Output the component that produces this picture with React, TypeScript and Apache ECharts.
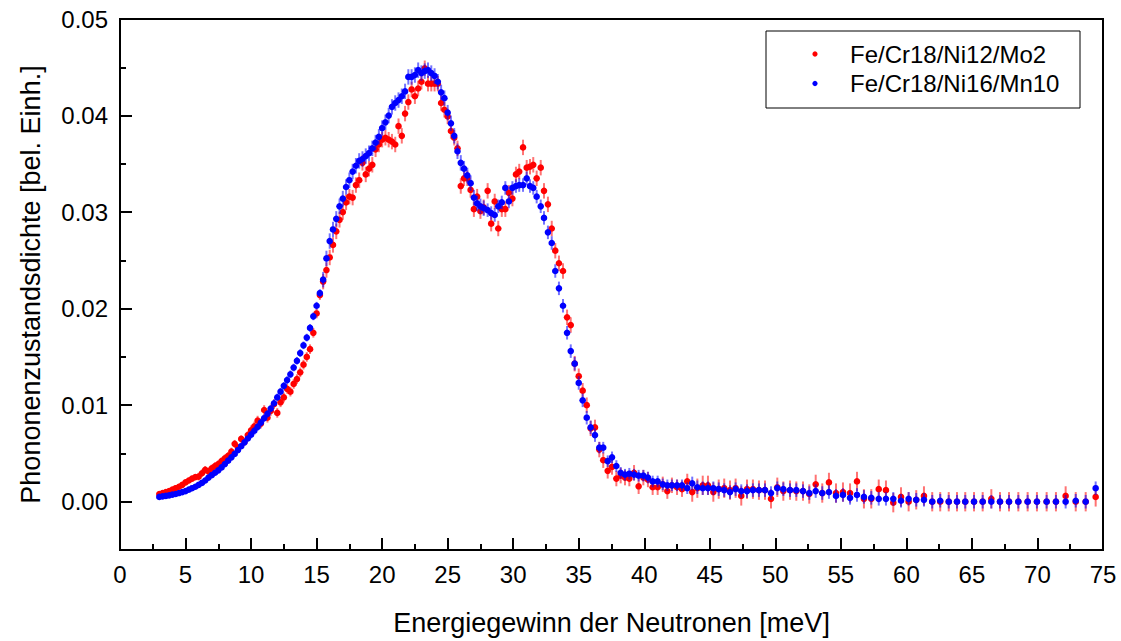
import { useEffect, useRef } from "react";
import * as echarts from "echarts";

// Energy transfer [meV] (shared binning of both measurements)
const energy = [
  3, 3.25, 3.5, 3.75, 4, 4.25, 4.5, 4.75, 5, 5.25,
  5.5, 5.75, 6, 6.25, 6.5, 6.75, 7, 7.25, 7.5, 7.75,
  8, 8.25, 8.5, 8.75, 9, 9.25, 9.5, 9.75, 10, 10.25,
  10.5, 10.75, 11, 11.25, 11.5, 11.75, 12, 12.25, 12.5, 12.75,
  13, 13.25, 13.5, 13.75, 14, 14.25, 14.5, 14.75, 15, 15.25,
  15.5, 15.75, 16, 16.25, 16.5, 16.75, 17, 17.25, 17.5, 17.75,
  18, 18.25, 18.5, 18.75, 19, 19.25, 19.5, 19.75, 20, 20.25,
  20.5, 20.75, 21, 21.25, 21.5, 21.75, 22, 22.25, 22.5, 22.75,
  23, 23.25, 23.5, 23.75, 24, 24.25, 24.5, 24.75, 25, 25.25,
  25.5, 25.75, 26, 26.25, 26.5, 26.75, 27, 27.25, 27.5, 27.75,
  28.05, 28.32, 28.59, 28.86, 29.13, 29.4, 29.67, 29.94, 30.21, 30.46,
  30.75, 31.03, 31.28, 31.53, 31.79, 32.1, 32.35, 32.65, 32.94, 33.21,
  33.49, 33.8, 34.11, 34.39, 34.69, 35.0, 35.3, 35.61, 35.91, 36.24,
  36.57, 36.87, 37.21, 37.54, 37.87, 38.2, 38.53, 38.86, 39.22, 39.57,
  39.93, 40.28, 40.64, 41.02, 41.41, 41.76, 42.11, 42.5, 42.88, 43.28,
  43.66, 44.05, 44.46, 44.86, 45.27, 45.68, 46.1, 46.54, 46.97, 47.4,
  47.84, 48.29, 48.75, 49.21, 49.67, 50.15, 50.61, 51.12, 51.6, 52.11,
  52.59, 53.08, 53.58, 54.09, 54.63, 55.16, 55.7, 56.23, 56.76, 57.32,
  57.89, 58.44, 59.0, 59.59, 60.17, 60.75, 61.34, 61.97, 62.58, 63.23,
  63.86, 64.49, 65.16, 65.82, 66.48, 67.14, 67.83, 68.54, 69.25, 69.96,
  70.7, 71.41, 72.15, 72.92, 73.68, 74.44,
];

// Fe/Cr18/Ni12/Mo2 (red)
const feMo = [
  0.0008, 0.0009, 0.0010, 0.0011, 0.00125, 0.0014, 0.00155, 0.00175, 0.0020, 0.0022,
  0.0024, 0.00255, 0.0026, 0.00295, 0.0033, 0.00315, 0.00345, 0.0037, 0.0039, 0.0042,
  0.0045, 0.00475, 0.0052, 0.0060, 0.0056, 0.0065, 0.0062, 0.0069, 0.0074, 0.0078,
  0.0084, 0.0081, 0.0095, 0.0087, 0.0094, 0.0101, 0.0092, 0.0103, 0.0108, 0.0117,
  0.0114, 0.0122, 0.0127, 0.0134, 0.0142, 0.0150, 0.0158, 0.0175, 0.0195, 0.0214,
  0.0228, 0.0240, 0.0253, 0.0266, 0.0280, 0.0292, 0.0300, 0.0310, 0.0316, 0.0315,
  0.0328, 0.0333, 0.0351, 0.0339, 0.0345, 0.0349, 0.0365, 0.0370, 0.0375, 0.0377,
  0.0375, 0.0373, 0.0370, 0.0389, 0.0379, 0.0402, 0.0414, 0.0427, 0.0420, 0.0428,
  0.0435, 0.0449, 0.0433, 0.0433, 0.0433, 0.0433, 0.0413, 0.0406, 0.0399, 0.0384,
  0.0377, 0.0366, 0.0327, 0.0335, 0.0335, 0.0323, 0.0303, 0.0316, 0.0301, 0.0305,
  0.0322, 0.0288, 0.0311, 0.0283, 0.0303, 0.0303, 0.0320, 0.0314, 0.0339, 0.0342,
  0.0367, 0.0346, 0.0347, 0.0349, 0.0335, 0.0346, 0.0322, 0.0308, 0.0283, 0.0260,
  0.0247, 0.0239, 0.0191, 0.0183, 0.0143, 0.0130, 0.0115, 0.0100, 0.0076, 0.0077,
  0.0054, 0.0043, 0.0032, 0.0036, 0.0024, 0.0027, 0.0025, 0.0024, 0.0030, 0.0016,
  0.0025, 0.0023, 0.0015, 0.0015, 0.0018, 0.0011, 0.0017, 0.0015, 0.0013, 0.0021,
  0.0010, 0.0014, 0.0017, 0.0017, 0.0010, 0.0013, 0.0014, 0.0012, 0.0014, 0.0006,
  0.0013, 0.0013, 0.0012, 0.0012, 0.0003, 0.0015, 0.0011, 0.0012, 0.0011, 0.0011,
  0.0008, 0.0018, 0.0009, 0.0020, 0.0009, 0.0010, 0.0009, 0.0021, 0.0003, 0.0003,
  0.0013, 0.0012, -0.0001, 0.0005, 0.0000, 0.0002, 0.0006, 0.0000, 0.0000, 0.0000,
  0.0000, 0.0000, 0.0000, 0.0000, 0.0003, 0.0000, 0.0000, 0.0000, 0.0000, 0.0000,
  0.0000, 0.0000, 0.0006, 0.0000, 0.0000, 0.0005,
];

// Fe/Cr18/Ni16/Mn10 (blue)
const feMn = [
  0.0005, 0.00055, 0.0006, 0.00066, 0.00074, 0.0008, 0.0009, 0.0010, 0.0011, 0.00125,
  0.0014, 0.00155, 0.00175, 0.00195, 0.0022, 0.0025, 0.00275, 0.0030, 0.00325, 0.00355,
  0.0039, 0.00425, 0.0046, 0.00495, 0.00535, 0.00575, 0.00615, 0.00655, 0.00695, 0.00735,
  0.00775, 0.0082, 0.00865, 0.0091, 0.00965, 0.0102, 0.0108, 0.0114, 0.0120, 0.0126,
  0.0132, 0.0139, 0.0146, 0.0154, 0.0162, 0.0170, 0.0180, 0.0192, 0.0203, 0.0216,
  0.0230, 0.0252, 0.0270, 0.0282, 0.0293, 0.0306, 0.0314, 0.0326, 0.0333, 0.0342,
  0.0348, 0.0353, 0.0355, 0.0358, 0.0361, 0.0366, 0.0372, 0.0378, 0.0387, 0.0393,
  0.0400, 0.0409, 0.0413, 0.0416, 0.0420, 0.0425, 0.0440, 0.0440, 0.0442, 0.0447,
  0.0444, 0.0446, 0.0447, 0.0444, 0.0441, 0.0435, 0.0424, 0.0418, 0.0403, 0.0392,
  0.0379, 0.0363, 0.0351, 0.0345, 0.0338, 0.0330, 0.0315, 0.0309, 0.0306, 0.0304,
  0.0302, 0.0299, 0.0297, 0.0306, 0.0310, 0.0325, 0.0311, 0.0325, 0.0327, 0.0328,
  0.0328, 0.0335, 0.0327, 0.0325, 0.0316, 0.0306, 0.0294, 0.0279, 0.0268, 0.0239,
  0.0221, 0.0203, 0.0175, 0.0156, 0.0143, 0.0123, 0.0105, 0.0087, 0.0077, 0.0069,
  0.0056, 0.0056, 0.0042, 0.0046, 0.0037, 0.0030, 0.0028, 0.0029, 0.0028, 0.0027,
  0.0027, 0.0025, 0.0021, 0.0021, 0.0018, 0.0017, 0.0017, 0.0017, 0.0017, 0.0014,
  0.0019, 0.0015, 0.0014, 0.0014, 0.0014, 0.0013, 0.0012, 0.0010, 0.0013, 0.0011,
  0.0011, 0.0012, 0.0012, 0.0012, 0.0009, 0.0014, 0.0013, 0.0012, 0.0012, 0.0011,
  0.0009, 0.0011, 0.0009, 0.0010, 0.0006, 0.0007, 0.0004, 0.0007, 0.0005, 0.0004,
  0.0003, 0.0003, 0.0003, 0.0001, 0.0003, 0.0002, 0.0002, 0.0000, 0.0001, 0.0000,
  0.0000, 0.0000, 0.0000, 0.0000, 0.0000, 0.0000, 0.0000, 0.0000, 0.0000, 0.0000,
  0.0000, 0.0000, 0.0000, 0.0001, 0.0000, 0.0014,
];

// error bar half-lengths (red)
const errMo = [
  0.0003, 0.0003, 0.0003, 0.0003, 0.0003, 0.0003, 0.0003, 0.0003, 0.0003, 0.0003,
  0.0003, 0.0003, 0.0004, 0.0004, 0.0004, 0.0004, 0.0004, 0.0004, 0.0004, 0.0004,
  0.0004, 0.0004, 0.0004, 0.0004, 0.0004, 0.0004, 0.0004, 0.0004, 0.0005, 0.0005,
  0.0005, 0.0005, 0.0005, 0.0005, 0.0005, 0.0005, 0.0005, 0.0005, 0.0005, 0.0005,
  0.0005, 0.0005, 0.0005, 0.0005, 0.0005, 0.0005, 0.0005, 0.0005, 0.0005, 0.0005,
  0.0008, 0.0008, 0.0008, 0.0008, 0.0008, 0.0008, 0.0008, 0.0008, 0.0008, 0.0008,
  0.0008, 0.0008, 0.0008, 0.0008, 0.0008, 0.0008, 0.0008, 0.0008, 0.0008, 0.0008,
  0.0008, 0.0008, 0.0008, 0.0008, 0.0008, 0.0008, 0.0008, 0.0008, 0.0008, 0.0008,
  0.0008, 0.0008, 0.0008, 0.0008, 0.0008, 0.0008, 0.0008, 0.0008, 0.0008, 0.0008,
  0.0008, 0.0008, 0.0008, 0.0008, 0.0008, 0.0008, 0.0008, 0.0008, 0.0008, 0.0008,
  0.0008, 0.0008, 0.0008, 0.0008, 0.0008, 0.0008, 0.0008, 0.0008, 0.0008, 0.0008,
  0.0008, 0.0008, 0.0008, 0.0008, 0.0008, 0.0008, 0.0008, 0.0008, 0.0008, 0.0008,
  0.0008, 0.0008, 0.0008, 0.0008, 0.0008, 0.0008, 0.0008, 0.0008, 0.0008, 0.0008,
  0.0008, 0.0008, 0.0008, 0.0008, 0.0008, 0.0008, 0.0008, 0.0008, 0.0008, 0.0008,
  0.0008, 0.0008, 0.0008, 0.0008, 0.0008, 0.0008, 0.0008, 0.0008, 0.0008, 0.0008,
  0.0010, 0.0010, 0.0010, 0.0010, 0.0010, 0.0010, 0.0010, 0.0010, 0.0010, 0.0010,
  0.0010, 0.0010, 0.0010, 0.0010, 0.0010, 0.0010, 0.0010, 0.0010, 0.0010, 0.0010,
  0.0010, 0.0010, 0.0010, 0.0010, 0.0010, 0.0010, 0.0010, 0.0010, 0.0010, 0.0010,
  0.0010, 0.0010, 0.0010, 0.0010, 0.0010, 0.0010, 0.0010, 0.0010, 0.0010, 0.0010,
  0.0010, 0.0010, 0.0010, 0.0010, 0.0010, 0.0010, 0.0010, 0.0010, 0.0010, 0.0010,
  0.0010, 0.0010, 0.0010, 0.0010, 0.0010, 0.0010,
];

// error bar half-lengths (blue)
const errMn = [
  0.0002, 0.0002, 0.0002, 0.0002, 0.0002, 0.0002, 0.0002, 0.0002, 0.0002, 0.0002,
  0.0002, 0.0002, 0.0003, 0.0003, 0.0003, 0.0003, 0.0003, 0.0003, 0.0003, 0.0003,
  0.0003, 0.0003, 0.0003, 0.0003, 0.0003, 0.0003, 0.0003, 0.0003, 0.0004, 0.0004,
  0.0004, 0.0004, 0.0004, 0.0004, 0.0004, 0.0004, 0.0004, 0.0004, 0.0004, 0.0004,
  0.0004, 0.0004, 0.0004, 0.0004, 0.0004, 0.0004, 0.0004, 0.0004, 0.0004, 0.0004,
  0.0008, 0.0008, 0.0008, 0.0008, 0.0008, 0.0008, 0.0008, 0.0008, 0.0008, 0.0008,
  0.0008, 0.0008, 0.0008, 0.0008, 0.0008, 0.0008, 0.0008, 0.0008, 0.0008, 0.0008,
  0.0008, 0.0008, 0.0008, 0.0008, 0.0008, 0.0008, 0.0008, 0.0008, 0.0008, 0.0008,
  0.0008, 0.0008, 0.0008, 0.0008, 0.0008, 0.0008, 0.0008, 0.0008, 0.0008, 0.0008,
  0.0008, 0.0008, 0.0008, 0.0008, 0.0008, 0.0008, 0.0008, 0.0008, 0.0008, 0.0008,
  0.0007, 0.0007, 0.0007, 0.0007, 0.0007, 0.0007, 0.0007, 0.0007, 0.0007, 0.0007,
  0.0007, 0.0007, 0.0007, 0.0007, 0.0007, 0.0007, 0.0007, 0.0007, 0.0007, 0.0007,
  0.0007, 0.0007, 0.0007, 0.0007, 0.0007, 0.0007, 0.0007, 0.0007, 0.0007, 0.0007,
  0.0006, 0.0006, 0.0006, 0.0006, 0.0006, 0.0006, 0.0006, 0.0006, 0.0006, 0.0006,
  0.0006, 0.0006, 0.0006, 0.0006, 0.0006, 0.0006, 0.0006, 0.0006, 0.0006, 0.0006,
  0.0007, 0.0007, 0.0007, 0.0007, 0.0007, 0.0007, 0.0007, 0.0007, 0.0007, 0.0007,
  0.0007, 0.0007, 0.0007, 0.0007, 0.0007, 0.0007, 0.0007, 0.0007, 0.0007, 0.0007,
  0.0007, 0.0007, 0.0007, 0.0007, 0.0007, 0.0007, 0.0007, 0.0007, 0.0007, 0.0007,
  0.0007, 0.0007, 0.0007, 0.0007, 0.0007, 0.0007, 0.0007, 0.0007, 0.0007, 0.0007,
  0.0007, 0.0007, 0.0007, 0.0007, 0.0007, 0.0007, 0.0007, 0.0007, 0.0007, 0.0007,
  0.0007, 0.0007, 0.0007, 0.0007, 0.0007, 0.0007,
];

const seriesNames = ["Fe/Cr18/Ni12/Mo2", "Fe/Cr18/Ni16/Mn10"];
const xTitle = "Energiegewinn der Neutronen [meV]";
const yTitle = "Phononenzustandsdichte [bel. Einh.]";

const FONT = "'Liberation Sans', Arial, Helvetica, sans-serif";

export default function App() {
  const ref = useRef<HTMLDivElement>(null);

  useEffect(() => {
    if (!ref.current) return;
    const chart = echarts.init(ref.current, null, { renderer: "svg" });

    const build = (vals: number[], errs: number[]) =>
      energy.map((e, i) => [e, vals[i], errs[i]]);

    const makeRender = (dot: string, bar: string) => (_params: any, api: any) => {
      const x = api.value(0);
      const y = api.value(1);
      const err = api.value(2);
      const c = api.coord([x, y]);
      const hi = api.coord([x, y + err]);
      const lo = api.coord([x, y - err]);
      return {
        type: "group",
        children: [
          {
            type: "line",
            shape: { x1: c[0], y1: hi[1], x2: c[0], y2: lo[1] },
            style: { stroke: bar, lineWidth: 2 },
          },
          {
            type: "circle",
            shape: { cx: c[0], cy: c[1], r: 3.3 },
            style: { fill: dot },
          },
        ],
      };
    };

    const axisCommon = {
      type: "value" as const,
      nameLocation: "middle" as const,
      nameTextStyle: { fontSize: 27, color: "#000", fontFamily: FONT },
      axisLine: { show: true, onZero: false, lineStyle: { color: "#000", width: 2 } },
      axisTick: { show: true, inside: true, length: 12, lineStyle: { color: "#000", width: 2 } },
      minorTick: { show: true, splitNumber: 2, length: 6, lineStyle: { color: "#000", width: 2 } },
      splitLine: { show: false },
      minorSplitLine: { show: false },
    };

    chart.setOption({
      animation: false,
      backgroundColor: "#fff",
      grid: {
        left: 120,
        right: 18,
        top: 19,
        bottom: 89,
        show: true,
        borderColor: "#000",
        borderWidth: 2,
        backgroundColor: "transparent",
      },
      xAxis: {
        ...axisCommon,
        min: 0,
        max: 75,
        interval: 5,
        name: xTitle,
        nameGap: 59,
        axisLabel: { fontSize: 24, color: "#000", margin: 12, fontFamily: FONT },
      },
      yAxis: {
        ...axisCommon,
        min: -0.005,
        max: 0.05,
        splitNumber: 5,
        name: yTitle,
        nameGap: 76,
        axisLabel: {
          fontSize: 24,
          color: "#000",
          margin: 12,
          fontFamily: FONT,
          formatter: (v: number) => (v < -1e-9 ? "" : v.toFixed(2)),
        },
      },
      legend: { show: false },
      series: [
        {
          type: "custom",
          name: seriesNames[0],
          renderItem: makeRender("#ff0000", "rgba(255,0,0,0.55)"),
          encode: { x: 0, y: 1 },
          data: build(feMo, errMo),
          z: 2,
        },
        {
          type: "custom",
          name: seriesNames[1],
          renderItem: makeRender("#0000ff", "rgba(0,0,255,0.55)"),
          encode: { x: 0, y: 1 },
          data: build(feMn, errMn),
          z: 3,
        },
      ],
      graphic: [
        {
          type: "rect",
          shape: { x: 766, y: 31, width: 314, height: 77 },
          style: { fill: "#fff", stroke: "#000", lineWidth: 1 },
          z: 10,
        },
        {
          type: "circle",
          shape: { cx: 815, cy: 54, r: 2.6 },
          style: { fill: "#ff0000" },
          z: 11,
        },
        {
          type: "text",
          x: 850,
          y: 54,
          style: {
            text: seriesNames[0],
            fontSize: 24,
            fontFamily: FONT,
            fill: "#000",
            verticalAlign: "middle",
            align: "left",
          },
          z: 11,
        },
        {
          type: "circle",
          shape: { cx: 815, cy: 83.5, r: 2.6 },
          style: { fill: "#0000ff" },
          z: 11,
        },
        {
          type: "text",
          x: 850,
          y: 83.5,
          style: {
            text: seriesNames[1],
            fontSize: 24,
            fontFamily: FONT,
            fill: "#000",
            verticalAlign: "middle",
            align: "left",
          },
          z: 11,
        },
      ],
    });

    return () => chart.dispose();
  }, []);

  return (
    <div
      ref={ref}
      style={{ position: "fixed", left: 0, top: 0, width: 1121, height: 641, background: "#fff" }}
    />
  );
}
